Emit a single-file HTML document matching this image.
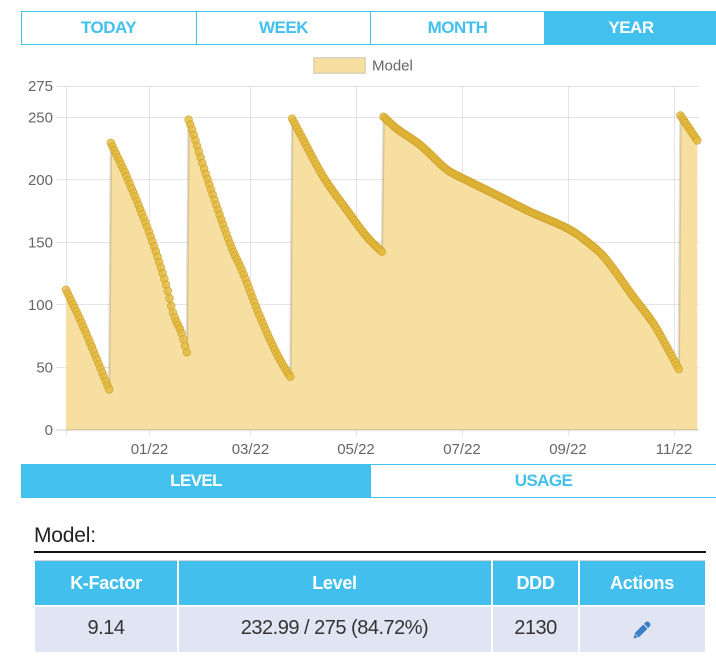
<!DOCTYPE html>
<html>
<head>
<meta charset="utf-8">
<style>
  html,body{margin:0;padding:0;background:#fff;}
  body{width:716px;height:663px;overflow:hidden;position:relative;font-family:"Liberation Sans",Arial,sans-serif;}
  .abs{position:absolute;}
  .tab{position:absolute;top:11px;height:34px;line-height:34px;text-align:center;font-weight:bold;font-size:17px;letter-spacing:-0.5px;color:#42c0ee;}
  .btab{position:absolute;top:464px;height:34px;line-height:34px;text-align:center;font-weight:bold;font-size:17px;letter-spacing:-0.6px;}
  .th{position:absolute;top:560px;height:46px;line-height:46px;text-align:center;color:#fff;font-weight:bold;font-size:18px;letter-spacing:-0.3px;}
  .td{position:absolute;top:606px;height:46px;line-height:44px;text-align:center;color:#333;font-size:20px;letter-spacing:-0.5px;}
</style>
</head>
<body>

<!-- Top period tabs -->
<div class="abs" style="left:21px;top:11px;width:697px;height:34px;box-sizing:border-box;border:1px solid #42c0ee;"></div>
<div class="abs" style="left:196px;top:11px;width:1px;height:34px;background:#42c0ee;"></div>
<div class="abs" style="left:370px;top:11px;width:1px;height:34px;background:#42c0ee;"></div>
<div class="abs" style="left:544px;top:11px;width:174px;height:34px;background:#42c0ee;"></div>
<div class="tab" style="left:21px;width:175px;">TODAY</div>
<div class="tab" style="left:197px;width:173px;">WEEK</div>
<div class="tab" style="left:371px;width:173px;">MONTH</div>
<div class="tab" style="left:544px;width:174px;color:#fff;">YEAR</div>

<!-- Chart -->
<svg class="abs" style="left:0;top:0;" width="716" height="500" xmlns="http://www.w3.org/2000/svg">
  <g font-family="Liberation Sans, Arial, sans-serif" font-size="15" fill="#666">
    <rect x="314" y="58" width="51" height="15" fill="#f6dfa0" stroke="#e2d6b4" stroke-width="2"/>
    <text x="372" y="70.5">Model</text>
    <text x="53" y="91" text-anchor="end">275</text>
    <text x="53" y="122.3" text-anchor="end">250</text>
    <text x="53" y="184.8" text-anchor="end">200</text>
    <text x="53" y="247.3" text-anchor="end">150</text>
    <text x="53" y="309.8" text-anchor="end">100</text>
    <text x="53" y="372.3" text-anchor="end">50</text>
    <text x="53" y="434.8" text-anchor="end">0</text>
    <text x="149.5" y="454" text-anchor="middle">01/22</text>
    <text x="250.5" y="454" text-anchor="middle">03/22</text>
    <text x="356" y="454" text-anchor="middle">05/22</text>
    <text x="462" y="454" text-anchor="middle">07/22</text>
    <text x="568" y="454" text-anchor="middle">09/22</text>
    <text x="674" y="454" text-anchor="middle">11/22</text>
  </g>
  <g stroke="rgba(0,0,0,0.1)" stroke-width="1" shape-rendering="crispEdges">
    <line x1="56" y1="86.5" x2="699" y2="86.5"/>
    <line x1="56" y1="117.5" x2="699" y2="117.5"/>
    <line x1="56" y1="179.5" x2="699" y2="179.5"/>
    <line x1="56" y1="242.5" x2="699" y2="242.5"/>
    <line x1="56" y1="304.5" x2="699" y2="304.5"/>
    <line x1="56" y1="367.5" x2="699" y2="367.5"/>
    <line x1="66.5" y1="86" x2="66.5" y2="436"/>
    <line x1="149.5" y1="86" x2="149.5" y2="436"/>
    <line x1="250.5" y1="86" x2="250.5" y2="436"/>
    <line x1="356.5" y1="86" x2="356.5" y2="436"/>
    <line x1="462.5" y1="86" x2="462.5" y2="436"/>
    <line x1="568.5" y1="86" x2="568.5" y2="436"/>
    <line x1="674.5" y1="86" x2="674.5" y2="436"/>
  </g>
  <g id="series"></g>
  <line x1="56" y1="430" x2="699" y2="430" stroke="rgba(0,0,0,0.2)" stroke-width="1" shape-rendering="crispEdges"/>
</svg>

<!-- Bottom tabs -->
<div class="abs" style="left:21px;top:464px;width:350px;height:34px;background:#42c0ee;"></div>
<div class="abs" style="left:371px;top:464px;width:345px;height:34px;box-sizing:border-box;border-top:1px solid #42c0ee;border-bottom:1px solid #42c0ee;"></div>
<div class="btab" style="left:21px;width:350px;color:#fff;">LEVEL</div>
<div class="btab" style="left:371px;width:345px;color:#42c0ee;">USAGE</div>

<!-- Model heading -->
<div class="abs" style="left:34px;top:524px;font-size:21px;line-height:24px;color:#222;letter-spacing:-0.2px;">Model:</div>
<div class="abs" style="left:34px;top:551px;width:672px;height:1.5px;background:#111;"></div>

<!-- Table -->
<div class="abs" style="left:35px;top:560px;width:670px;height:46px;background:#42bfed;"></div>
<div class="abs" style="left:35px;top:560px;width:670px;height:1px;background:#d6d6d6;"></div>
<div class="abs" style="left:35px;top:606px;width:670px;height:46px;background:#e1e4f3;"></div>
<div class="abs" style="left:35px;top:605px;width:670px;height:2px;background:#fff;"></div>
<div class="abs" style="left:176.5px;top:560px;width:2px;height:92px;background:#fff;"></div>
<div class="abs" style="left:491px;top:560px;width:2px;height:92px;background:#fff;"></div>
<div class="abs" style="left:577.5px;top:560px;width:2px;height:92px;background:#fff;"></div>

<div class="th" style="left:35px;width:142px;">K-Factor</div>
<div class="th" style="left:178px;width:313px;">Level</div>
<div class="th" style="left:493px;width:85px;">DDD</div>
<div class="th" style="left:579px;width:126px;">Actions</div>

<div class="td" style="left:35px;width:142px;">9.14</div>
<div class="td" style="left:178px;width:313px;">232.99 / 275 (84.72%)</div>
<div class="td" style="left:493px;width:85px;">2130</div>

<svg class="abs" style="left:632px;top:620px;" width="20" height="20" viewBox="0 0 20 20" xmlns="http://www.w3.org/2000/svg">
  <path d="M1.5,18.5 L3.2,12.6 L13.5,2.3 Q15.5,0.6 17.4,2.6 Q19.4,4.5 17.7,6.5 L7.4,16.8 Z" fill="#3b7ec8"/>
  <line x1="11.6" y1="4.2" x2="15.8" y2="8.4" stroke="#e1e4f3" stroke-width="1.1"/>
  <line x1="3.6" y1="14.6" x2="5.4" y2="16.4" stroke="#e1e4f3" stroke-width="0.9"/>
</svg>

<script>
(function(){
  var segs = [
    [[66,112],[83.3,82.5],[109.3,32]],
    [[110,231],[115,222.5],[126.7,202.5],[150,156],[166.7,114.5],[173.3,93],[181.7,77],[186.7,62]],
    [[187.3,251],[193.3,237],[206.7,202.5],[230,149],[243.3,125],[260,90.5],[276.7,61],[290,42.5]],
    [[290.7,251],[300,237],[323.3,202.5],[346.7,176],[366.7,154.6],[381.7,142.5]],
    [[382.7,251],[396.7,241],[420,228],[443.3,210.5],[450,206.5],[463.3,201],[496.7,187.8],[530,174.5],[570,160],[593.3,146.5],[606.7,135.8],[633.3,106.5],[653.3,85.2],[666.7,66.5],[679.3,47.8]],
    [[680,252],[697.3,231.5]]
  ];
  function val(x){
    var s = segs[0];
    for (var k=0;k<segs.length;k++){ if (x >= segs[k][0][0]) s = segs[k]; }
    if (x <= s[0][0]) return s[0][1];
    var n=s.length;
    for (var j=0;j<n-1;j++){
      if (x>=s[j][0] && x<=s[j+1][0]){
        var x0=s[j][0], x1=s[j+1][0], y0=s[j][1], y1=s[j+1][1];
        var h=x1-x0, t=(x-x0)/h;
        var m0 = j>0 ? (y1-s[j-1][1])/(x1-s[j-1][0]) : (y1-y0)/h;
        var m1 = j+2<n ? (s[j+2][1]-y0)/(s[j+2][0]-x0) : (y1-y0)/h;
        var t2=t*t, t3=t2*t;
        return (2*t3-3*t2+1)*y0 + (t3-2*t2+t)*h*m0 + (-2*t3+3*t2)*y1 + (t3-t2)*h*m1;
      }
    }
    return s[n-1][1];
  }
  function Y(v){ return 429.8 - 1.25*v; }
  var pts=[];
  var d=1.726;
  for (var i=0;;i++){
    var x=66+i*d;
    if (x>697.3) x=697.3;
    pts.push([x,Y(val(x))]);
    if (x>=697.3) break;
  }
  var ns="http://www.w3.org/2000/svg";
  var g=document.getElementById("series");
  var line="";
  for (var i=0;i<pts.length;i++){ line += (i?"L":"M")+pts[i][0].toFixed(2)+","+pts[i][1].toFixed(2); }
  var area=document.createElementNS(ns,"path");
  area.setAttribute("d", line+"L697.3,430L66,430Z");
  area.setAttribute("fill","#f6dfa0");
  g.appendChild(area);
  var ln=document.createElementNS(ns,"path");
  ln.setAttribute("d", line);
  ln.setAttribute("fill","none");
  ln.setAttribute("stroke","rgba(0,0,0,0.12)");
  ln.setAttribute("stroke-width","2.5");
  g.appendChild(ln);
  for (var i=0;i<pts.length;i++){
    var c=document.createElementNS(ns,"circle");
    c.setAttribute("cx",pts[i][0].toFixed(2));
    c.setAttribute("cy",pts[i][1].toFixed(2));
    c.setAttribute("r","3.8");
    c.setAttribute("fill","rgba(229,186,62,0.8)");
    c.setAttribute("stroke","rgba(207,163,40,0.75)");
    c.setAttribute("stroke-width","1");
    g.appendChild(c);
  }
})();
</script>
</body>
</html>
